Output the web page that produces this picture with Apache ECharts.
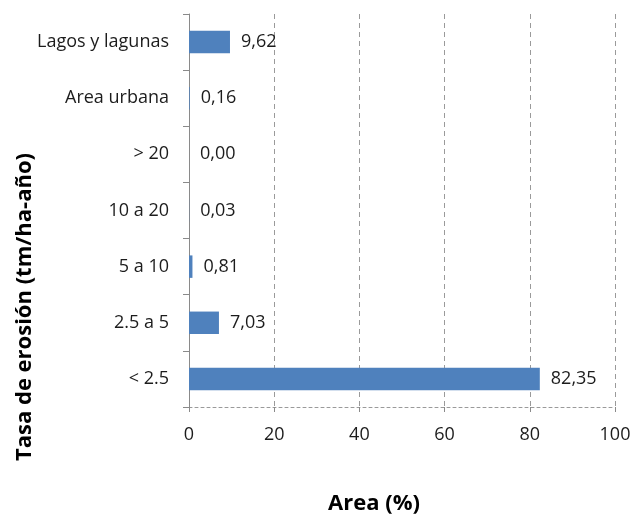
<!DOCTYPE html>
<html>
<head>
<meta charset="utf-8">
<script src="https://cdn.jsdelivr.net/npm/echarts@6/dist/echarts.min.js"></script>
<style>
  html, body { margin: 0; padding: 0; background: #fff; }
  #chart { width: 637px; height: 519px; }
</style>
</head>
<body>
<div id="chart"></div>
<script>
// Erosion-rate classes, listed bottom to top
const categories = ['< 2.5', '2.5 a 5', '5 a 10', '10 a 20', '> 20', 'Area urbana', 'Lagos y lagunas'];
// Share of total area (%)
const areaValues = [82.35, 7.03, 0.81, 0.03, 0.00, 0.16, 9.62];
const xTicks = [0, 20, 40, 60, 80, 100];

const font = '"Open Sans", "Noto Sans", sans-serif';
const textColor = '#1c1c1c';

const chart = echarts.init(document.getElementById('chart'));
chart.setOption({
  animation: false,
  backgroundColor: '#ffffff',
  grid: { left: 189, right: 22, top: 14, bottom: 112, containLabel: false },
  xAxis: {
    type: 'value',
    min: xTicks[0],
    max: xTicks[xTicks.length - 1],
    interval: 20,
    axisLine: { show: true, lineStyle: { color: '#9a9a9a', type: [3, 3], width: 1 } },
    axisTick: { show: true, length: 5, lineStyle: { color: '#8a8a8a' } },
    axisLabel: { color: textColor, fontFamily: font, fontSize: 18, margin: 19 },
    splitLine: { show: true, lineStyle: { color: '#9a9a9a', type: [5, 4], width: 1 } }
  },
  yAxis: {
    type: 'category',
    data: categories,
    axisLine: { show: true, lineStyle: { color: '#8a8a8a', width: 1 } },
    axisTick: { show: true, length: 6, lineStyle: { color: '#8a8a8a' } },
    axisLabel: { color: textColor, fontFamily: font, fontSize: 18, margin: 20 },
    splitLine: { show: false }
  },
  series: [{
    type: 'bar',
    data: areaValues,
    barCategoryGap: '60%',
    itemStyle: { color: '#4f81bd' },
    label: {
      show: true,
      position: 'right',
      distance: 11,
      color: textColor,
      fontFamily: font,
      fontSize: 18,
      formatter: p => p.value.toFixed(2).replace('.', ',')
    }
  }],
  graphic: [
    {
      type: 'text',
      x: 374,
      y: 504,
      style: {
        text: 'Area (%)',
        fill: '#000',
        font: 'bold 22px ' + font,
        align: 'center',
        verticalAlign: 'middle'
      }
    },
    {
      type: 'text',
      x: 25,
      y: 307,
      rotation: Math.PI / 2,
      style: {
        text: 'Tasa de erosión (tm/ha-año)',
        fill: '#000',
        font: 'bold 22px ' + font,
        align: 'center',
        verticalAlign: 'middle'
      }
    }
  ]
});
</script>
</body>
</html>
